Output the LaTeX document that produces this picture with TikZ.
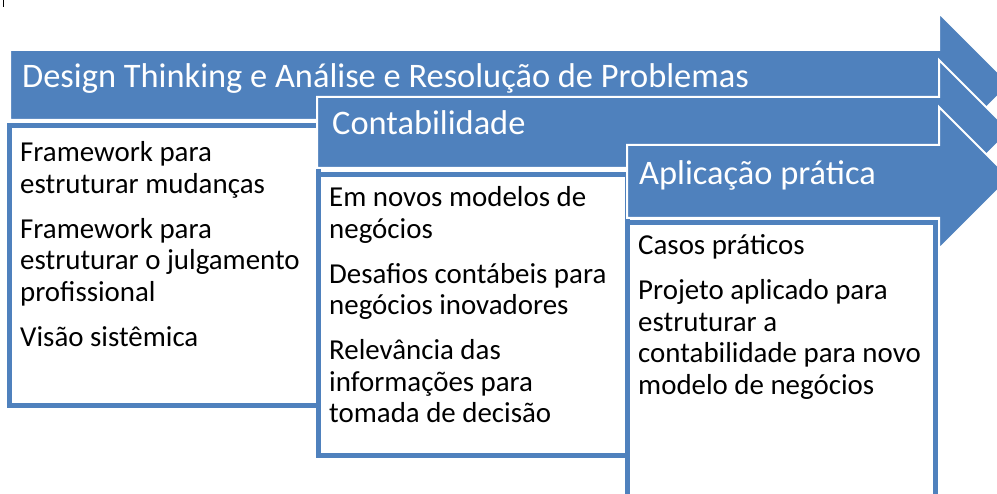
\documentclass[tikz,border=0pt]{standalone}
\usepackage{fontspec}
\setmainfont{Carlito}
\definecolor{accent}{HTML}{4F81BD}
\begin{document}
\begin{tikzpicture}[x=1pt,y=-1pt,
  arrowshape/.style={fill=accent,draw=white,line width=2pt,line join=miter},
  listbox/.style={fill=white,draw=accent,line width=5pt},
  headtext/.style={anchor=base west,inner sep=0pt,text=white,font=\fontsize{34.4}{40}\selectfont},
  bodytext/.style={anchor=base west,inner sep=0pt,text=black,font=\fontsize{28.9}{31.5}\selectfont}]
\useasboundingbox (0,0) rectangle (997,494);
\clip (0,0) rectangle (997,494);
\fill[white] (0,0) rectangle (997,494);
% small cursor mark
\draw[black,line width=1.5pt] (3.5,0) -- (3.5,7);
% arrow 1
\draw[arrowshape] (10,50) -- (939,50) -- (939,13) -- (1010,84) -- (939,155) -- (939,120) -- (10,120) -- cycle;
\node[headtext] (h1) at (22,88) {Design Thinking e Análise e Resolução de Problemas};
\draw[listbox] (9.5,125.5) rectangle (318,405.5);
\node[bodytext] (b1) at (20,162) {\begin{tabular}[t]{@{}l@{}}Framework para\\ estruturar mudanças\\[13.5pt] Framework para\\ estruturar o julgamento\\ profissional\\[13.5pt] Visão sistêmica\end{tabular}};
% arrow 2
\draw[arrowshape] (317,97) -- (939,97) -- (939,60) -- (1010,131) -- (939,202) -- (939,168) -- (317,168) -- cycle;
\node[headtext] (h2) at (332,135) {Contabilidade};
\draw[listbox] (318.5,174.5) rectangle (627.5,455.5);
\node[bodytext] (b2) at (329,207) {\begin{tabular}[t]{@{}l@{}}Em novos modelos de\\ negócios\\[13.5pt] Desafios contábeis para\\ negócios inovadores\\[13.5pt] Relevância das\\ informações para\\ tomada de decisão\end{tabular}};
% arrow 3
\draw[arrowshape] (627,145) -- (939,145) -- (939,107) -- (1010,178) -- (939,249) -- (939,218) -- (627,218) -- cycle;
\node[headtext] (h3) at (639,185) {Aplicação prática};
\draw[listbox] (627.5,222.5) rectangle (935.5,560);
\node[bodytext] (b3) at (638,255) {\begin{tabular}[t]{@{}l@{}}Casos práticos\\[13.5pt] Projeto aplicado para\\ estruturar a\\ contabilidade para novo\\ modelo de negócios\end{tabular}};
\end{tikzpicture}
\end{document}
